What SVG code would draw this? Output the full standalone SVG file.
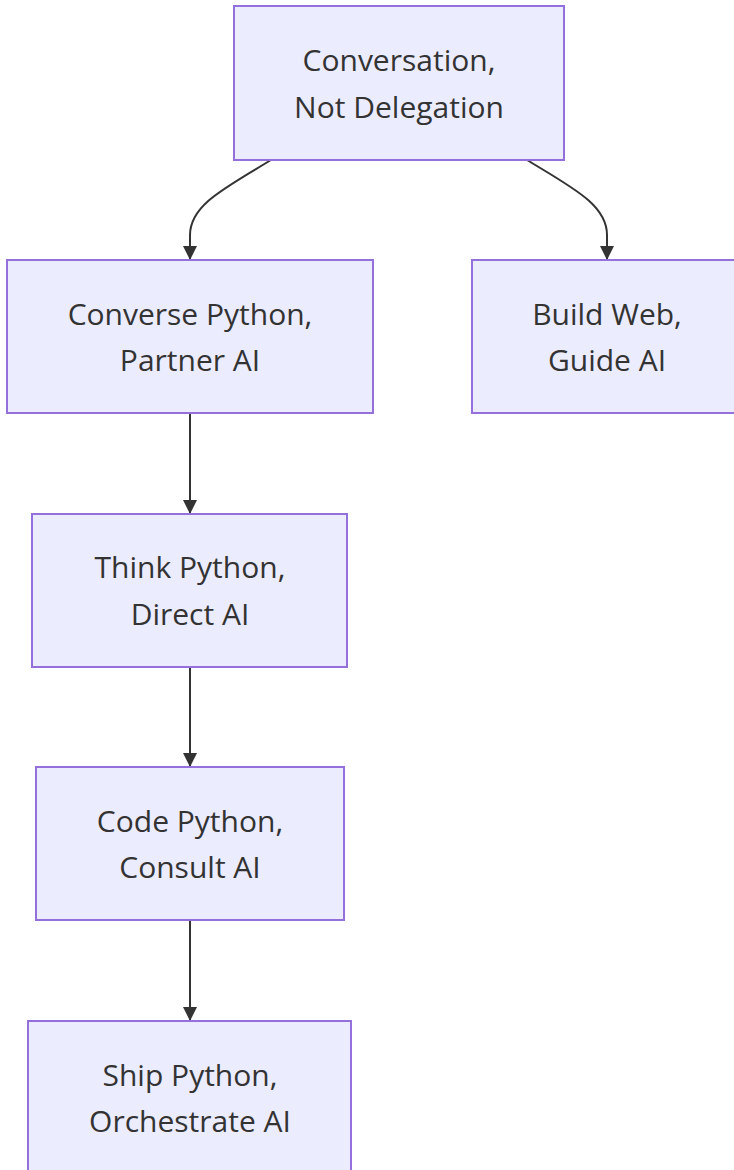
<svg xmlns="http://www.w3.org/2000/svg" width="734" height="1170" viewBox="0 0 734 1170">
  <style>
    .node rect { fill: #ECECFF; stroke: #9370DB; stroke-width: 2; }
    .node text { font-family: "Open Sans", "DejaVu Sans", sans-serif; font-size: 30px; fill: #333333; text-anchor: middle; dominant-baseline: central; }
    .edges path { fill: none; stroke: #333333; stroke-width: 2; }
  </style>
  <defs>
    <marker id="arrow" viewBox="0 0 14 14" refX="13" refY="7" markerWidth="14" markerHeight="14" markerUnits="userSpaceOnUse" orient="auto">
      <path d="M0,0 L14,7 L0,14 Z" fill="#333333"/>
    </marker>
  </defs>
  <rect width="734" height="1170" fill="#FFFFFF"/>

  <!-- connectors -->
  <g class="edges">
    <path d="M271,160 C225,188 190,205 190,235 L190,259" marker-end="url(#arrow)"/>
    <path d="M527,160 C573,188 607,205 607,235 L607,259" marker-end="url(#arrow)"/>
    <path d="M190,413 L190,513" marker-end="url(#arrow)"/>
    <path d="M190,667 L190,766" marker-end="url(#arrow)"/>
    <path d="M190,920 L190,1020" marker-end="url(#arrow)"/>
  </g>

  <!-- nodes -->
  <g id="conversation" class="node">
    <rect x="234" y="6" width="330" height="154"/>
    <text x="399" y="59">Conversation,</text>
    <text x="399" y="106">Not Delegation</text>
  </g>
  <g id="converse-python" class="node">
    <rect x="7" y="260" width="366" height="153"/>
    <text x="190" y="313">Converse Python,</text>
    <text x="190" y="359">Partner AI</text>
  </g>
  <g id="build-web" class="node">
    <rect x="472" y="260" width="270" height="153"/>
    <text x="607" y="313">Build Web,</text>
    <text x="607" y="359">Guide AI</text>
  </g>
  <g id="think-python" class="node">
    <rect x="32" y="514" width="315" height="153"/>
    <text x="190" y="566">Think Python,</text>
    <text x="190" y="613">Direct AI</text>
  </g>
  <g id="code-python" class="node">
    <rect x="36" y="767" width="308" height="153"/>
    <text x="190" y="820">Code Python,</text>
    <text x="190" y="866">Consult AI</text>
  </g>
  <g id="ship-python" class="node">
    <rect x="28" y="1021" width="323" height="160"/>
    <text x="190" y="1074">Ship Python,</text>
    <text x="190" y="1120">Orchestrate AI</text>
  </g>
</svg>
